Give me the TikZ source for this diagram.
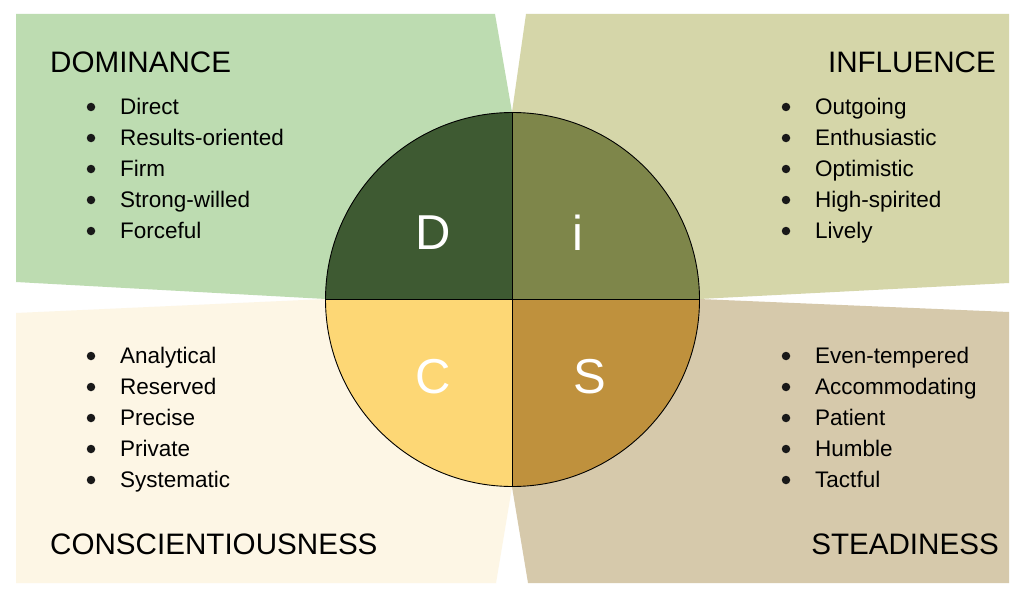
\documentclass[tikz,border=0pt]{standalone}
\usepackage{fontspec}
\setmainfont{Liberation Sans}
\definecolor{pTL}{RGB}{189,220,177}
\definecolor{pTR}{RGB}{213,214,169}
\definecolor{pBL}{RGB}{253,246,229}
\definecolor{pBR}{RGB}{214,201,171}
\definecolor{qD}{RGB}{62,90,50}
\definecolor{qI}{RGB}{126,134,74}
\definecolor{qC}{RGB}{253,215,117}
\definecolor{qS}{RGB}{191,145,61}
\begin{document}
\begin{tikzpicture}[x=1pt,y=-1pt,
  title/.style={font=\fontsize{29.6}{29.6}\selectfont, inner sep=0pt},
  item/.style={font=\fontsize{22.5}{22.5}\selectfont, inner sep=0pt, anchor=base west},
  dot/.style={circle, fill=black!90, inner sep=0pt, minimum size=8.5pt},
  letter/.style={font=\fontsize{49}{49}\selectfont, text=white, inner sep=0pt}]
\useasboundingbox (0,0) rectangle (1024,599);
\fill[white] (0,0) rectangle (1024,599);
% panels
\fill[pTL] (16,14) -- (495,14) -- (512,112) -- (512,299) -- (326,299) -- (16,282) -- cycle;
\fill[pTR] (526,14) -- (1009,14) -- (1009,283) -- (699,299) -- (512,299) -- (512,112) -- cycle;
\fill[pBL] (16,313) -- (326,299) -- (512,299) -- (512,487) -- (496,583) -- (16,583) -- cycle;
\fill[pBR] (1009,312) -- (1009,583) -- (528,583) -- (512,487) -- (512,299) -- (699,299) -- cycle;
% circle
\coordinate (c) at (512.5,299.5);
\begin{scope}
\clip (c) circle[radius=187pt];
\fill[qD] (c) rectangle ++(-200,-200);
\fill[qI] (c) rectangle ++(200,-200);
\fill[qC] (c) rectangle ++(-200,200);
\fill[qS] (c) rectangle ++(200,200);
\end{scope}
\draw[line width=0.9pt] (c) circle[radius=187pt];
\draw[line width=0.9pt] ([yshift=187pt]c) -- ([yshift=-187pt]c);
\draw[line width=0.9pt] ([xshift=-187pt]c) -- ([xshift=187pt]c);
% letters
\node[letter] (lD) at (433,233) {D};
\node[letter] (lI) at (578,233) {i};
\node[letter] (lC) at (433,377) {C};
\node[letter] (lS) at (590,377) {S};
% titles
\node[title, anchor=base west] (tD) at (50,73) {DOMINANCE};
\node[title, anchor=base east] (tI) at (996,73) {INFLUENCE};
\node[title, anchor=base west] (tC) at (50,554) {CONSCIENTIOUSNESS};
\node[title, anchor=base east] (tS) at (999,554) {STEADINESS};
% lists
\foreach \t [count=\i] in {Direct,Results-oriented,Firm,Strong-willed,Forceful}{
  \node[dot] (dD\i) at (91,107+31*\i-31) {};
  \node[item] (iD\i) at (120,114+31*\i-31) {\t};
}
\foreach \t [count=\i] in {Outgoing,Enthusiastic,Optimistic,High-spirited,Lively}{
  \node[dot] (dI\i) at (786,107+31*\i-31) {};
  \node[item] (iI\i) at (815,114+31*\i-31) {\t};
}
\foreach \t [count=\i] in {Analytical,Reserved,Precise,Private,Systematic}{
  \node[dot] (dC\i) at (91,356+31*\i-31) {};
  \node[item] (iC\i) at (120,363+31*\i-31) {\t};
}
\foreach \t [count=\i] in {Even-tempered,Accommodating,Patient,Humble,Tactful}{
  \node[dot] (dS\i) at (786,356+31*\i-31) {};
  \node[item] (iS\i) at (815,363+31*\i-31) {\t};
}
\end{tikzpicture}
\end{document}
